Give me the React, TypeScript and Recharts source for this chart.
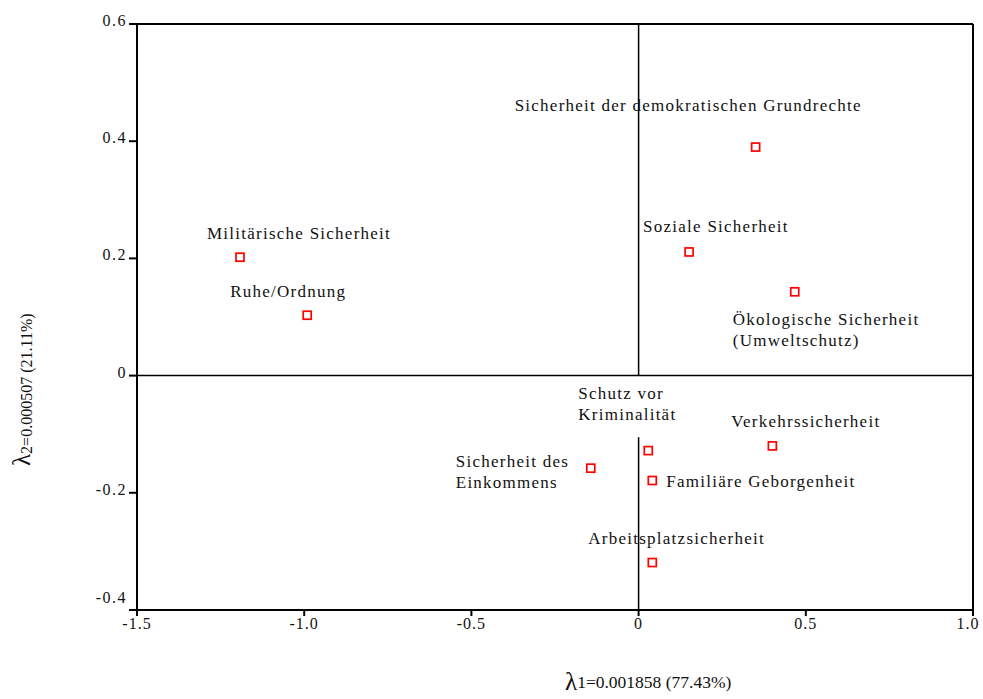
import { ReferenceLine, Scatter, ScatterChart, XAxis, YAxis } from "recharts";

const names = [
  "Sicherheit der demokratischen Grundrechte",
  "Soziale Sicherheit",
  "Ökologische Sicherheit\n(Umweltschutz)",
  "Militärische Sicherheit",
  "Ruhe/Ordnung",
  "Schutz vor\nKriminalität",
  "Verkehrssicherheit",
  "Familiäre Geborgenheit",
  "Arbeitsplatzsicherheit",
  "Sicherheit des\nEinkommens",
];
const xValues = [0.35, 0.151, 0.467, -1.192, -0.991, 0.029, 0.4, 0.041, 0.041, -0.143];
const yValues = [0.39, 0.211, 0.143, 0.202, 0.103, -0.128, -0.12, -0.179, -0.319, -0.158];

const xTicks = [-1.5, -1.0, -0.5, 0, 0.5, 1.0];
const yTicks = [-0.4, -0.2, 0, 0.2, 0.4, 0.6];

// label placement relative to the marker, [dx, dy of first line centre]
const labelOffsets: [number, number][] = [
  [-241, -42],
  [-46, -26],
  [-62, 27],
  [-33, -24],
  [-77, -24],
  [-70, -58],
  [-41, -25],
  [14, 1],
  [-64, -25],
  [-135, -7],
];

const points = names.map((name, i) => ({ i, name, x: xValues[i], y: yValues[i] }));

const FONT = "'Liberation Serif', 'Times New Roman', serif";
const fmt = (v: number) => (v === 0 ? "0" : v.toFixed(1));

function Marker(props: any) {
  const { cx, cy, payload } = props;
  const [dx, dy] = labelOffsets[payload.i];
  const lines: string[] = payload.name.split("\n");
  return (
    <g>
      <rect x={cx - 4} y={cy - 4} width={8} height={8} fill="#fff" stroke="#ff0000" strokeWidth={1.7} />
      <text style={{ fontFamily: FONT, fontSize: 17, letterSpacing: 1.25 }} fill="#111">
        {lines.map((l, k) => (
          <tspan key={k} x={cx + dx} y={cy + dy + 6 + k * 21}>
            {l}
          </tspan>
        ))}
      </text>
    </g>
  );
}

function XTick({ x, y, payload }: any) {
  // last label nudged left so it stays inside the page
  const shift = payload.value === 1 ? -5 : 0;
  return (
    <text x={x + shift} y={y + 11} textAnchor="middle" fill="#111" style={{ fontFamily: FONT, fontSize: 16, letterSpacing: 1 }}>
      {fmt(payload.value)}
    </text>
  );
}

function YTick({ x, y, payload }: any) {
  // the bottom label sits higher to clear the x tick labels
  const lift = payload.value === -0.4 ? 12 : 3;
  return (
    <text x={x} y={y + 5 - lift} textAnchor="end" fill="#111" style={{ fontFamily: FONT, fontSize: 16, letterSpacing: 1.5 }}>
      {fmt(payload.value)}
    </text>
  );
}

function XTitle({ viewBox }: any) {
  const x = viewBox.x + 428;
  const y = viewBox.y + 80;
  return (
    <text x={x} y={y} style={{ fontFamily: FONT }} fill="#111">
      <tspan fontSize={25}>λ</tspan>
      <tspan fontSize={17.5} dy={-2}>1=0.001858 (77.43%)</tspan>
    </text>
  );
}

function YTitle() {
  const x = 30;
  const y = 466;
  return (
    <text x={x} y={y} style={{ fontFamily: FONT }} fill="#111" transform={`rotate(-90, ${x}, ${y})`}>
      <tspan fontSize={25}>λ</tspan>
      <tspan fontSize={16} dy={2}>2=0.000507 (21.11%)</tspan>
    </text>
  );
}

export default function App() {
  return (
    <div style={{ position: "absolute", left: 0, top: 0, background: "#fff" }}>
      <ScatterChart width={983} height={699} margin={{ top: 24, right: 10, left: 77, bottom: 59 }}>
        <XAxis
          type="number"
          dataKey="x"
          domain={[-1.5, 1.0]}
          ticks={xTicks}
          height={30}
          tickSize={6}
          tickMargin={2}
          stroke="#000"
          strokeWidth={2}
          tick={XTick}
          allowDataOverflow
          label={{ content: XTitle }}
        />
        <YAxis
          type="number"
          dataKey="y"
          domain={[-0.4, 0.6]}
          ticks={yTicks}
          width={60}
          tickSize={8}
          tickMargin={2}
          stroke="#000"
          strokeWidth={2}
          tick={YTick}
          allowDataOverflow
          label={{ content: YTitle }}
        />
        <ReferenceLine y={0.6} stroke="#000" strokeWidth={2} />
        <ReferenceLine x={1.0} stroke="#000" strokeWidth={2} />
        <ReferenceLine y={0} stroke="#000" strokeWidth={1.5} />
        <ReferenceLine segment={[{ x: 0, y: 0.6 }, { x: 0, y: 0 }]} stroke="#000" strokeWidth={1.5} />
        <ReferenceLine segment={[{ x: 0, y: -0.105 }, { x: 0, y: -0.4 }]} stroke="#000" strokeWidth={1.5} />
        <Scatter data={points} shape={Marker} isAnimationActive={false} />
      </ScatterChart>
    </div>
  );
}
